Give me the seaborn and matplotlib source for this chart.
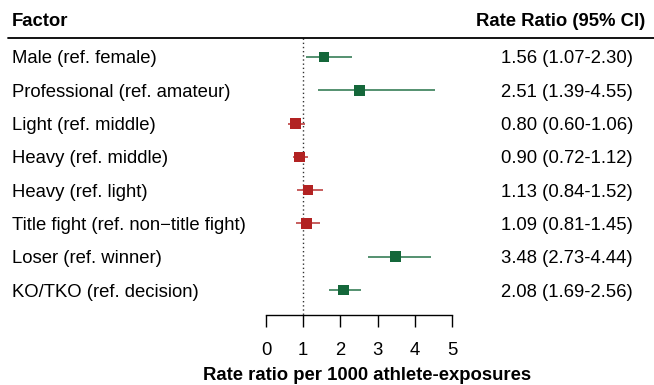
import numpy as np
import pandas as pd
import matplotlib
matplotlib.use('Agg')
import matplotlib.pyplot as plt
import matplotlib.transforms as mtransforms
import seaborn as sns

# Data
factors = ['Male (ref. female)', 'Professional (ref. amateur)', 'Light (ref. middle)',
           'Heavy (ref. middle)', 'Heavy (ref. light)', 'Title fight (ref. non\u2212title fight)',
           'Loser (ref. winner)', 'KO/TKO (ref. decision)']
rate_ratio = [1.56, 2.51, 0.80, 0.90, 1.13, 1.09, 3.48, 2.08]
ci_low = [1.07, 1.39, 0.60, 0.72, 0.84, 0.81, 2.73, 1.69]
ci_high = [2.30, 4.55, 1.06, 1.12, 1.52, 1.45, 4.44, 2.56]
significant = ['yes', 'yes', 'no', 'no', 'no', 'no', 'yes', 'yes']

df = pd.DataFrame({'factor': factors, 'rr': rate_ratio, 'lo': ci_low, 'hi': ci_high,
                   'sig': significant})
df['row'] = np.arange(len(df))

sns.set_style('white')
plt.rcParams['font.family'] = ['Liberation Sans', 'DejaVu Sans']
plt.rcParams['text.color'] = 'black'
plt.rcParams['xtick.color'] = 'black'
plt.rcParams['axes.labelcolor'] = 'black'

fs = 13.3
palette = {'yes': '#14673a', 'no': '#b22222'}

fig = plt.figure(figsize=(6.54, 3.85), dpi=100)
# axes spans full width; bottom spine sits at the axis line
ax = fig.add_axes([0, 1 - 315 / 385, 1, 315 / 385])

# confidence intervals
for _, r in df.iterrows():
    ax.hlines(r['row'], r['lo'], r['hi'], color=palette[r['sig']], lw=1.2, alpha=0.85, zorder=2)

sns.scatterplot(data=df, x='rr', y='row', hue='sig', palette=palette, marker='s', s=58,
                linewidth=0, legend=False, ax=ax, zorder=3)

# reference line at 1
ax.vlines(1, -0.57, 7.75, color='#333333', lw=1, linestyles=(0, (1, 2)), zorder=1)

px = 37.2  # pixels per unit
ax.set_xlim(-266 / px, (654 - 266) / px)
ax.set_ylim(7.75, -1.71)

# header
trans = mtransforms.blended_transform_factory(fig.transFigure, ax.transData)
ax.text(12 / 654, -1.11, 'Factor', transform=trans, fontsize=fs, fontweight='bold',
        ha='left', va='center_baseline')
ax.text(645 / 654, -1.11, 'Rate Ratio (95% CI)', transform=trans, fontsize=fs,
        fontweight='bold', ha='right', va='center_baseline')
ax.plot([8 / 654, 1], [-0.57, -0.57], transform=trans, color='black', lw=1.3, clip_on=False)

for _, r in df.iterrows():
    ax.text(12 / 654, r['row'], r['factor'], transform=trans, fontsize=fs,
            ha='left', va='center_baseline')
    ax.text(633 / 654, r['row'], f"{r['rr']:.2f} ({r['lo']:.2f}-{r['hi']:.2f})",
            transform=trans, fontsize=fs, ha='right', va='center_baseline')

# x axis
for s in ['top', 'right', 'left']:
    ax.spines[s].set_visible(False)
ax.spines['bottom'].set_bounds(0, 5)
ax.spines['bottom'].set_linewidth(1)
ax.spines['bottom'].set_color('black')
ax.set_xticks([0, 1, 2, 3, 4, 5])
ax.tick_params(axis='x', direction='out', length=8.6, width=1, pad=11, labelsize=fs,
               bottom=True)
ax.set_yticks([])
ax.set_ylabel('')
ax.set_xlabel('Rate ratio per 1000 athlete-exposures', fontsize=fs, fontweight='bold')
ax.xaxis.set_label_coords(367 / 654, -61 / 315)
ax.xaxis.label.set_va('center')

fig.savefig('out.png', dpi=100)
